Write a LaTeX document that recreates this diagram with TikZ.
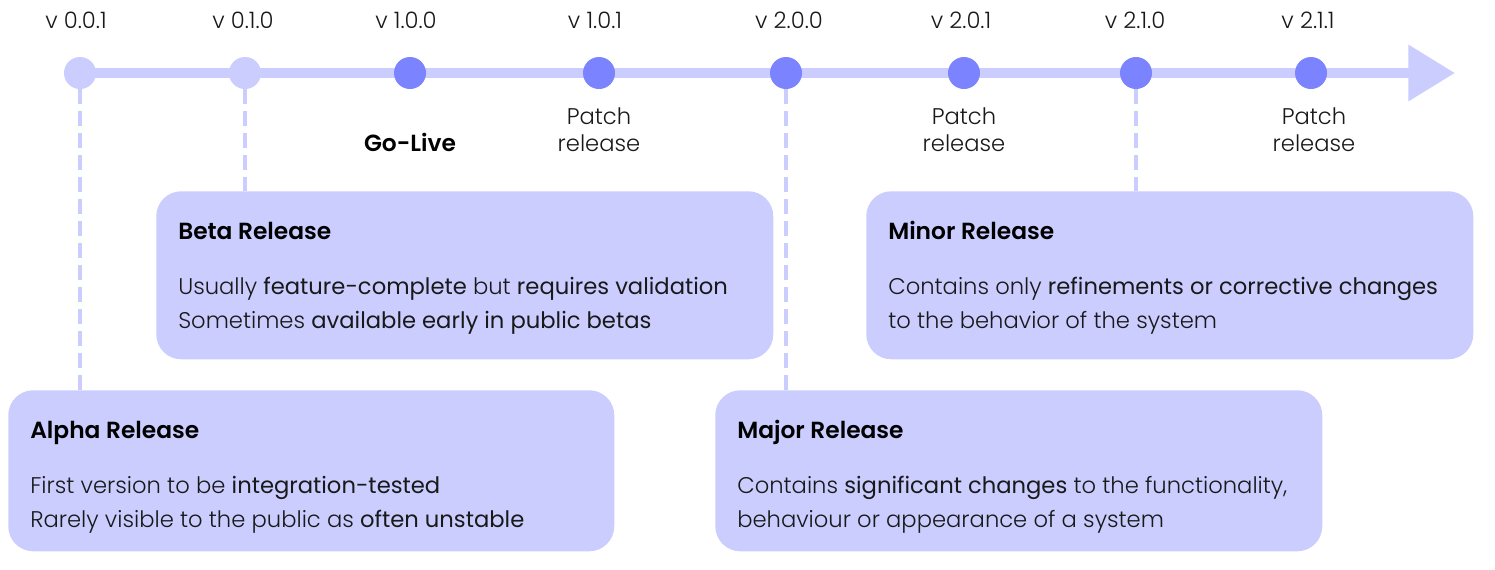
\documentclass[tikz,border=0pt]{standalone}
\usepackage{fontspec}
\setmainfont{Poppins Light}[BoldFont=Poppins]
\newfontfamily\headfont{Poppins SemiBold}
\usetikzlibrary{arrows.meta}

\definecolor{lightlav}{HTML}{CACDFE}
\definecolor{darklav}{HTML}{7B83FE}

\begin{document}
\begin{tikzpicture}[x=0.75pt, y=-0.75pt, font=\fontsize{17}{25.5}\selectfont]
\useasboundingbox (0,0) rectangle (1495,569);

% the time axis
\coordinate (start) at (80,73);
\coordinate (tip) at (1455,73);
\draw [lightlav, line width=7.5pt, -{Triangle[length=35pt, width=40.5pt]}] (start) -- (tip);

\begin{scope}[
    every node/.style={circle,minimum size=24pt,inner sep=0pt},
    ]
    \node (v1) at (80, 73) [fill=lightlav] {};
    \node (v2) at (245, 73) [fill=lightlav] {};
    \node (v3) at (410, 73) [fill=darklav] {};
    \node (v4) at (599, 73) [fill=darklav] {};
    \node (v5) at (786, 73) [fill=darklav] {};
    \node (v6) at (964, 73) [fill=darklav] {};
    \node (v7) at (1136, 73) [fill=darklav] {};
    \node (v8) at (1311, 73) [fill=darklav] {};
\end{scope}

\begin{scope}[every node/.style={anchor=base,inner sep=0pt,text=black!90,align=center}]
    \node (l1) at (76, 28) {v 0.0.1};
    \node (l2) at (243, 28) {v 0.1.0};
    \node (l3) at (406, 28) {v 1.0.0};
    \node (l4) at (595, 28) {v 1.0.1};
    \node (l5) at (789, 28) {v 2.0.0};
    \node (l6) at (961, 28) {v 2.0.1};
    \node (l7) at (1135, 28) {v 2.1.0};
    \node (l8) at (1308, 28) {v 2.1.1};

    \node (golive) at (410, 151) [font=\headfont\fontsize{17.5}{25.5}\selectfont,text=black] {Go-Live};
    \node (p1) at (599, 151) [font=\fontsize{17}{20.25}\selectfont] {Patch\\release};
    \node (p2) at (964, 151) [font=\fontsize{17}{20.25}\selectfont] {Patch\\release};
    \node (p3) at (1314, 151) [font=\fontsize{17}{20.25}\selectfont] {Patch\\release};
\end{scope}

% release boxes
\begin{scope}[every node/.style={anchor=north west,fill=lightlav,rounded corners=18.75pt,inner sep=0pt}]
    \node (beta) at (156, 191) [minimum width=462.75pt, minimum height=126pt] {};
    \node (minor) at (866, 191) [minimum width=455.25pt, minimum height=126pt] {};
    \node (alpha) at (8, 390) [minimum width=454.5pt, minimum height=120.75pt] {};
    \node (major) at (715, 390) [minimum width=455.25pt, minimum height=120.75pt] {};
\end{scope}

\begin{scope}[every path/.style={draw=lightlav,line width=2.4pt,dash pattern=on 11pt off 5.5pt}]
    \path (v1.south) -- (v1.south |- alpha.north);
    \path (v2.south) -- (v2.south |- beta.north);
    \path (v5.south) -- (v5.south |- major.north);
    \path (v7.south) -- (v7.south |- minor.north);
\end{scope}

\begin{scope}[every node/.style={anchor=base west,inner sep=0pt,align=left,text=black!90}]
    \node (betahead) at (178, 239) [font=\headfont\fontsize{17.5}{25.5}\selectfont,text=black] {Beta Release};
    \node (betatext) at (178, 328) {Usually \textbf{feature-complete} but \textbf{requires validation}\\Sometimes \textbf{available early in public betas}};

    \node (minorhead) at (888, 239) [font=\headfont\fontsize{17.5}{25.5}\selectfont,text=black] {Minor Release};
    \node (minortext) at (888, 328) {Contains only \textbf{refinements or corrective changes}\\to the behavior of the system};

    \node (alphahead) at (30, 438) [font=\headfont\fontsize{17.5}{25.5}\selectfont,text=black] {Alpha Release};
    \node (alphatext) at (30, 527) {First version to be \textbf{integration-tested}\\Rarely visible to the public as \textbf{often unstable}};

    \node (majorhead) at (737, 438) [font=\headfont\fontsize{17.5}{25.5}\selectfont,text=black] {Major Release};
    \node (majortext) at (737, 527) {Contains \textbf{significant changes} to the functionality,\\behaviour or appearance of a system};
\end{scope}
\end{tikzpicture}
\end{document}
